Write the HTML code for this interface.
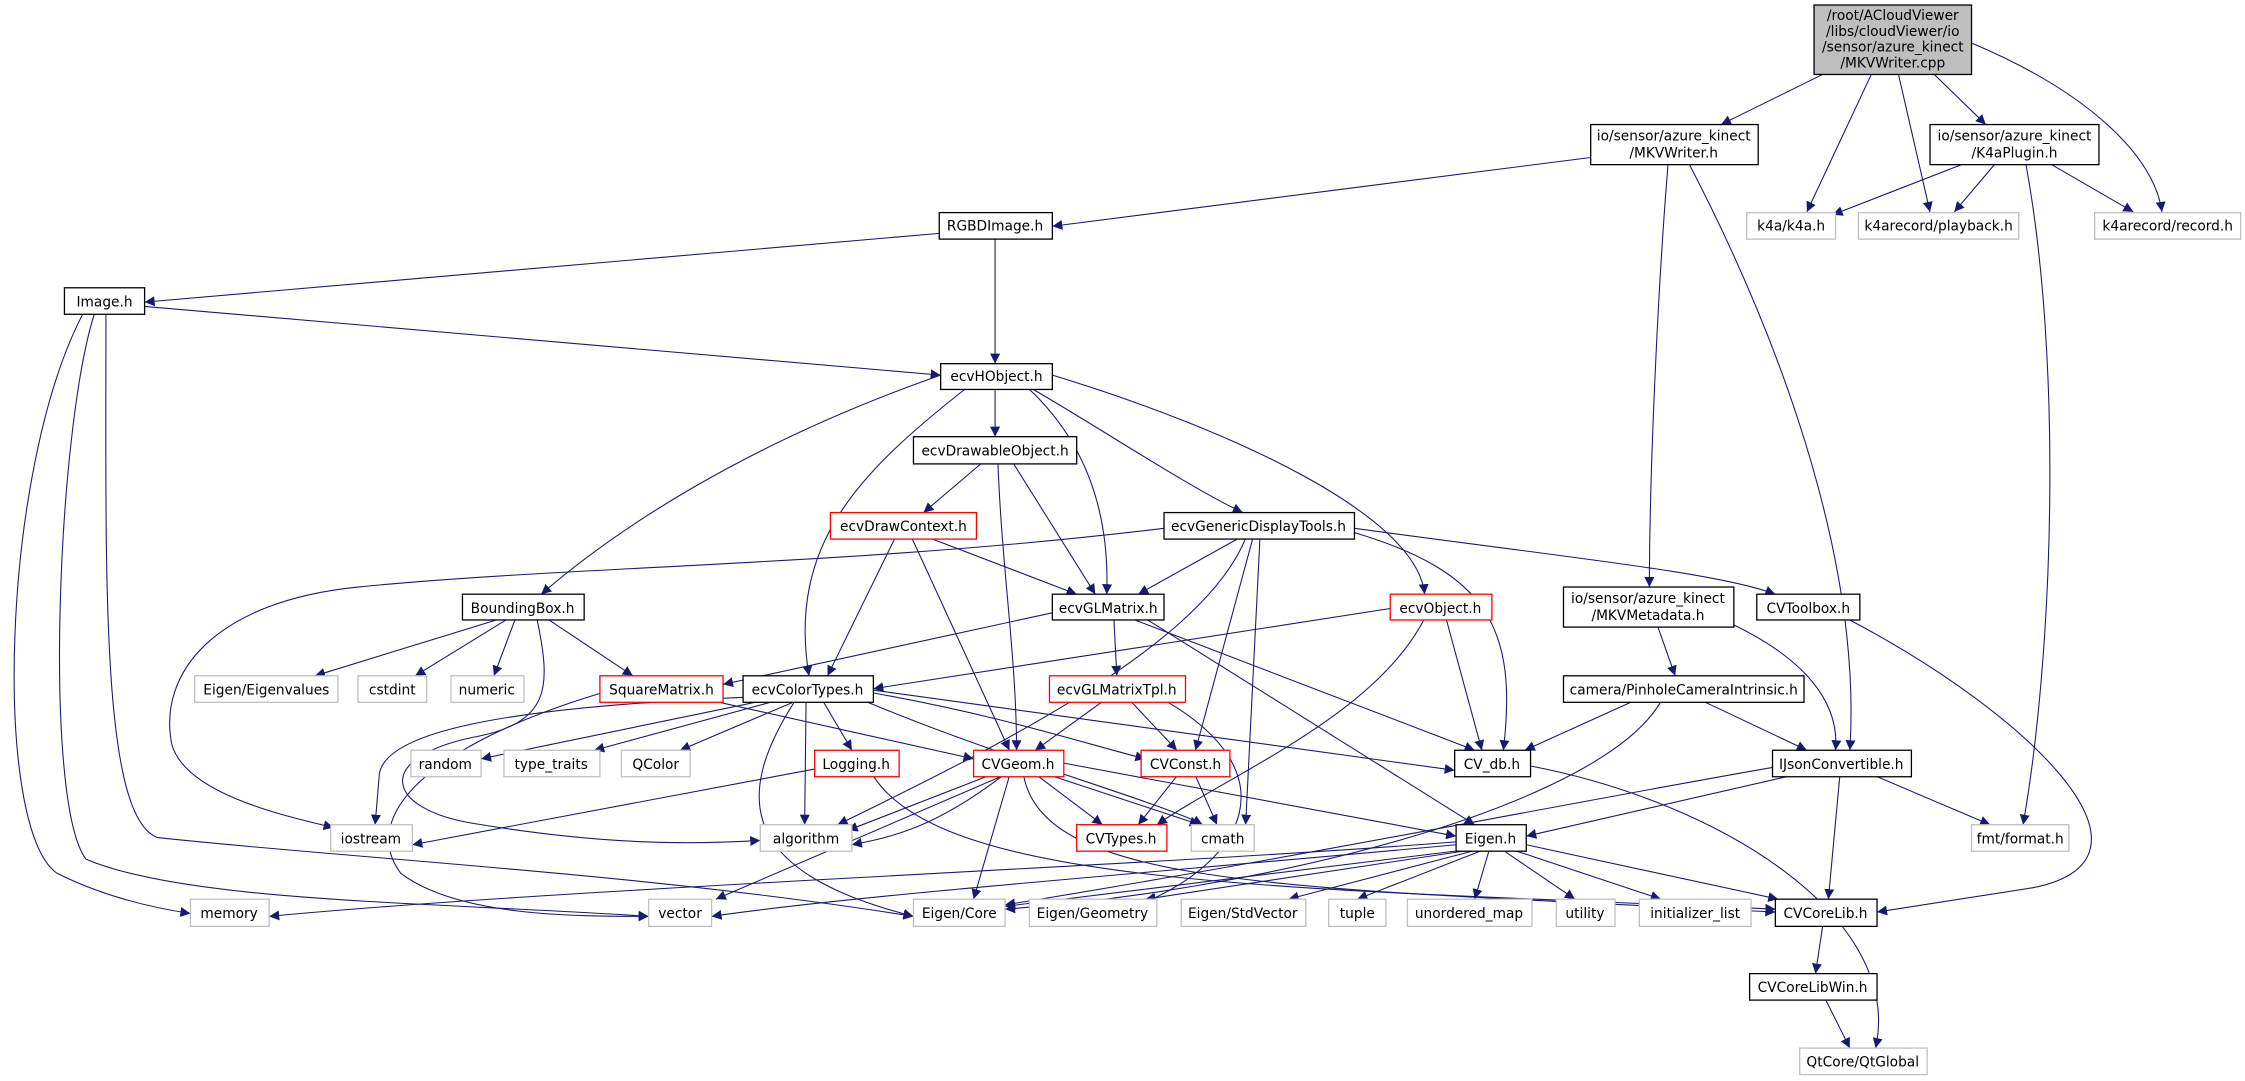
<!DOCTYPE html>
<html><head><meta charset="utf-8"><style>
html,body{margin:0;padding:0;background:#fff;}
svg{display:block;}
text{font-family:"DejaVu Sans","Liberation Sans",sans-serif;font-size:9.6px;fill:#000;text-anchor:middle;}
.e{fill:none;stroke:#191970;stroke-width:0.75;}
.b{fill:#fff;stroke:#000;stroke-width:0.9;}
.r{fill:#fff;stroke:#ff0000;stroke-width:0.9;}
.g{fill:#fff;stroke:#bfbfbf;stroke-width:0.9;}
</style></head><body>
<svg width="2245" height="1081" viewBox="0 0 1568 755" preserveAspectRatio="none" xmlns="http://www.w3.org/2000/svg">
<defs><marker id="a" viewBox="0 0 10 10" refX="10" refY="5" markerWidth="7" markerHeight="7" markerUnits="userSpaceOnUse" orient="auto"><path d="M0,0 L10,5 L0,10 z" fill="#191970"/></marker></defs>
<g class="e" marker-end="url(#a)">
<path d="M1273,52 L1202,87"/>
<path d="M1307,52 L1262,148"/>
<path d="M1326,52 L1348,148"/>
<path d="M1351,52 L1387,87"/>
<path d="M1377,30 C1460,65 1505,110 1510,148"/>
<path d="M1111,110 L735,158"/>
<path d="M1165,115 C1158,200 1152,330 1152,410"/>
<path d="M1180,115 C1250,250 1300,400 1292,524"/>
<path d="M1370,115 L1280,150"/>
<path d="M1393,115 L1365,148"/>
<path d="M1433,115 L1490,148"/>
<path d="M1415,115 C1440,250 1435,450 1413,576"/>
<path d="M656,163 L101,211"/>
<path d="M695,167 L695,254"/>
<path d="M101,214 L657,262"/>
<path d="M58,219 C0,330 -5,580 40,610 Q80,630 133,638"/>
<path d="M66,219 C40,300 30,560 60,600 C130,630 300,630 453,640"/>
<path d="M74,219 C74,400 70,570 110,585 C250,600 450,610 638,640"/>
<path d="M695,271 L695,305"/>
<path d="M657,262 C520,310 430,370 378,415"/>
<path d="M675,271 C600,330 550,380 565,472"/>
<path d="M718,271 C760,310 775,360 773,415"/>
<path d="M720,271 C770,300 830,340 868,358"/>
<path d="M735,262 C860,300 990,360 995,415"/>
<path d="M685,324 L645,358"/>
<path d="M697,324 C700,400 710,460 710,524"/>
<path d="M708,324 L765,415"/>
<path d="M625,376 L578,472"/>
<path d="M637,376 L705,524"/>
<path d="M650,376 L752,415"/>
<path d="M865,376 L795,415"/>
<path d="M813,369 C600,395 400,395 250,410 C150,420 110,470 120,520 C130,555 200,570 233,578"/>
<path d="M870,376 C840,450 700,520 585,576"/>
<path d="M875,376 L835,524"/>
<path d="M880,376 L870,576"/>
<path d="M946,372 C1040,400 1060,440 1050,524"/>
<path d="M946,369 C1100,390 1200,400 1240,415"/>
<path d="M350,432 L220,472"/>
<path d="M355,432 L290,472"/>
<path d="M360,432 L345,472"/>
<path d="M382,432 L442,472"/>
<path d="M375,432 C385,480 385,505 330,515 C260,530 270,565 330,575 C420,590 480,590 531,587"/>
<path d="M735,428 L505,478"/>
<path d="M778,432 L780,472"/>
<path d="M790,432 L1030,524"/>
<path d="M800,432 L1030,576"/>
<path d="M971,425 L610,481"/>
<path d="M1010,432 L1035,524"/>
<path d="M995,432 C960,500 860,540 808,576"/>
<path d="M1158,438 L1170,472"/>
<path d="M1210,436 C1260,460 1285,490 1282,524"/>
<path d="M1290,432 C1420,500 1520,600 1420,620 L1311,637"/>
<path d="M500,490 L680,530"/>
<path d="M420,484 C300,520 250,570 280,610 C320,640 400,640 453,640"/>
<path d="M530,490 L336,530"/>
<path d="M540,490 L415,524"/>
<path d="M555,490 L475,524"/>
<path d="M575,490 L595,524"/>
<path d="M563,490 L562,576"/>
<path d="M610,484 C700,500 760,520 800,530"/>
<path d="M610,482 L1016,538"/>
<path d="M605,490 C700,530 810,560 840,576"/>
<path d="M555,490 C510,560 520,610 638,640"/>
<path d="M520,487 C330,495 270,515 265,540 L262,576"/>
<path d="M770,490 L723,524"/>
<path d="M790,490 L822,524"/>
<path d="M815,490 C900,540 870,600 800,630"/>
<path d="M575,536 L288,590"/>
<path d="M610,542 C660,620 900,620 1240,635"/>
<path d="M690,542 L592,580"/>
<path d="M700,542 C650,580 620,585 595,590"/>
<path d="M725,542 L770,576"/>
<path d="M735,542 L838,576"/>
<path d="M743,533 L1017,584"/>
<path d="M705,542 L680,628"/>
<path d="M700,542 L500,628"/>
<path d="M715,542 C730,620 900,620 1240,637"/>
<path d="M822,542 L795,576"/>
<path d="M835,542 L850,576"/>
<path d="M1069,535 C1200,560 1330,640 1310,732"/>
<path d="M1250,542 L1066,584"/>
<path d="M1310,542 L1390,576"/>
<path d="M1285,542 L1277,628"/>
<path d="M1238,536 C1100,560 900,600 702,632"/>
<path d="M1140,490 L1065,524"/>
<path d="M1190,490 L1262,524"/>
<path d="M1160,490 C1120,560 900,620 702,635"/>
<path d="M1017,588 C800,605 400,620 188,640"/>
<path d="M1017,590 C800,610 600,625 497,640"/>
<path d="M1020,594 L702,633"/>
<path d="M1025,594 L800,628"/>
<path d="M1030,594 L900,628"/>
<path d="M1035,594 L948,628"/>
<path d="M1040,594 L1030,628"/>
<path d="M1050,594 L1100,628"/>
<path d="M1058,594 L1160,628"/>
<path d="M1066,590 L1242,628"/>
<path d="M1273,647 L1268,680"/>
<path d="M1275,698 L1292,732"/>
</g>
<rect x="1267" y="3.5" width="110" height="48.5" fill="#bfbfbf" stroke="#000" stroke-width="0.9"/>
<text x="1322" y="14">/root/ACloudViewer</text><text x="1322" y="25">/libs/cloudViewer/io</text><text x="1322" y="36">/sensor/azure_kinect</text><text x="1322" y="47">/MKVWriter.cpp</text>
<rect class="b" x="1111" y="87" width="117" height="28"/><text x="1169" y="98">io/sensor/azure_kinect</text><text x="1169" y="110">/MKVWriter.h</text>
<rect class="b" x="1348" y="87" width="118" height="28"/><text x="1407" y="98">io/sensor/azure_kinect</text><text x="1407" y="110">/K4aPlugin.h</text>
<rect class="g" x="1220" y="148.5" width="62" height="18.5"/><text x="1251" y="161">k4a/k4a.h</text>
<rect class="g" x="1298" y="148.5" width="112" height="18.5"/><text x="1354" y="161">k4arecord/playback.h</text>
<rect class="g" x="1463" y="148.5" width="102" height="18.5"/><text x="1514" y="161">k4arecord/record.h</text>
<rect class="b" x="656" y="148.5" width="79" height="18.5"/><text x="695" y="161">RGBDImage.h</text>
<rect class="b" x="45" y="201" width="56" height="18.5"/><text x="73" y="214">Image.h</text>
<rect class="b" x="657" y="254" width="78" height="18"/><text x="696" y="266">ecvHObject.h</text>
<rect class="b" x="638" y="305" width="114" height="19"/><text x="695" y="318">ecvDrawableObject.h</text>
<rect class="r" x="580" y="358" width="102" height="18.5"/><text x="631" y="371">ecvDrawContext.h</text>
<rect class="b" x="813" y="358" width="133" height="18.5"/><text x="879" y="371">ecvGenericDisplayTools.h</text>
<rect class="b" x="323" y="415" width="85" height="18"/><text x="365" y="428">BoundingBox.h</text>
<rect class="b" x="735" y="415" width="78" height="18"/><text x="774" y="428">ecvGLMatrix.h</text>
<rect class="r" x="971" y="415" width="71" height="18"/><text x="1006" y="428">ecvObject.h</text>
<rect class="b" x="1092" y="410" width="119" height="28"/><text x="1151" y="421">io/sensor/azure_kinect</text><text x="1151" y="433">/MKVMetadata.h</text>
<rect class="b" x="1227" y="415" width="72" height="18"/><text x="1263" y="428">CVToolbox.h</text>
<rect class="g" x="136" y="472" width="100" height="18.5"/><text x="186" y="485">Eigen/Eigenvalues</text>
<rect class="g" x="250" y="472" width="48" height="18.5"/><text x="274" y="485">cstdint</text>
<rect class="g" x="315" y="472" width="51" height="18.5"/><text x="340" y="485">numeric</text>
<rect class="r" x="419" y="472" width="86" height="18.5"/><text x="462" y="485">SquareMatrix.h</text>
<rect class="b" x="519" y="472" width="91" height="18.5"/><text x="564" y="485">ecvColorTypes.h</text>
<rect class="r" x="733" y="472" width="95" height="18.5"/><text x="780" y="485">ecvGLMatrixTpl.h</text>
<rect class="b" x="1092" y="472" width="168" height="18.5"/><text x="1176" y="485">camera/PinholeCameraIntrinsic.h</text>
<rect class="g" x="287" y="524" width="49" height="18.5"/><text x="311" y="537">random</text>
<rect class="g" x="352" y="524" width="67" height="18.5"/><text x="385" y="537">type_traits</text>
<rect class="g" x="434" y="524" width="48" height="18.5"/><text x="458" y="537">QColor</text>
<rect class="r" x="569" y="524" width="59" height="18.5"/><text x="598" y="537">Logging.h</text>
<rect class="r" x="680" y="524" width="63" height="18.5"/><text x="711" y="537">CVGeom.h</text>
<rect class="r" x="797" y="524" width="62" height="18.5"/><text x="828" y="537">CVConst.h</text>
<rect class="b" x="1016" y="524" width="53" height="18.5"/><text x="1042" y="537">CV_db.h</text>
<rect class="b" x="1238" y="524" width="97" height="18.5"/><text x="1286" y="537">IJsonConvertible.h</text>
<rect class="g" x="231" y="576" width="57" height="18.5"/><text x="259" y="589">iostream</text>
<rect class="g" x="531" y="576" width="64" height="18.5"/><text x="563" y="589">algorithm</text>
<rect class="r" x="752" y="576" width="63" height="18.5"/><text x="783" y="589">CVTypes.h</text>
<rect class="g" x="832" y="576" width="44" height="18.5"/><text x="854" y="589">cmath</text>
<rect class="b" x="1017" y="576" width="49" height="18.5"/><text x="1041" y="589">Eigen.h</text>
<rect class="g" x="1377" y="576" width="68" height="18.5"/><text x="1411" y="589">fmt/format.h</text>
<rect class="g" x="133" y="628" width="55" height="19"/><text x="160" y="641">memory</text>
<rect class="g" x="453" y="628" width="44" height="19"/><text x="475" y="641">vector</text>
<rect class="g" x="638" y="628" width="64" height="19"/><text x="670" y="641">Eigen/Core</text>
<rect class="g" x="719" y="628" width="89" height="19"/><text x="763" y="641">Eigen/Geometry</text>
<rect class="g" x="825" y="628" width="87" height="19"/><text x="868" y="641">Eigen/StdVector</text>
<rect class="g" x="928" y="628" width="40" height="19"/><text x="948" y="641">tuple</text>
<rect class="g" x="983" y="628" width="87" height="19"/><text x="1026" y="641">unordered_map</text>
<rect class="g" x="1087" y="628" width="41" height="19"/><text x="1107" y="641">utility</text>
<rect class="g" x="1145" y="628" width="78" height="19"/><text x="1184" y="641">initializer_list</text>
<rect class="b" x="1240" y="628" width="71" height="19"/><text x="1275" y="641">CVCoreLib.h</text>
<rect class="b" x="1222" y="680" width="89" height="18.5"/><text x="1266" y="693">CVCoreLibWin.h</text>
<rect class="g" x="1257" y="732" width="89" height="18.5"/><text x="1301" y="745">QtCore/QtGlobal</text>
</svg>
</body></html>
